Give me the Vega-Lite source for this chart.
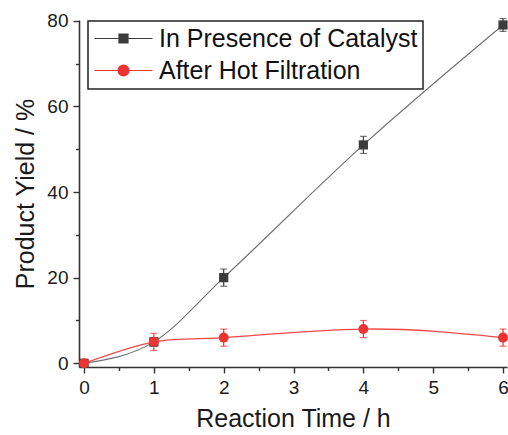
{
  "$schema": "https://vega.github.io/schema/vega-lite/v6.json",
  "width": 428,
  "height": 347,
  "autosize": {"type": "none"},
  "padding": {"left": 79, "top": 20, "right": 1, "bottom": 68},
  "background": "white",
  "config": {
    "view": {"stroke": null},
    "font": "Liberation Sans",
    "axis": {
      "domainColor": "#333333",
      "domainWidth": 1.6,
      "tickColor": "#333333",
      "tickWidth": 1.4,
      "labelFont": "Liberation Sans",
      "labelFontSize": 19,
      "labelColor": "#1a1a1a",
      "titleFont": "Liberation Sans",
      "titleFontSize": 25,
      "titleFontWeight": "normal",
      "titleColor": "#1a1a1a",
      "grid": false,
      "labelOverlap": false,
      "labelFlush": false
    }
  },
  "data": {
    "values": [
      {"series": "In Presence of Catalyst", "time": 0, "yield": 0, "err": 0.5},
      {"series": "In Presence of Catalyst", "time": 1, "yield": 5, "err": 1},
      {"series": "In Presence of Catalyst", "time": 2, "yield": 20, "err": 2},
      {"series": "In Presence of Catalyst", "time": 4, "yield": 51, "err": 2},
      {"series": "In Presence of Catalyst", "time": 6, "yield": 79, "err": 1.5},
      {"series": "After Hot Filtration", "time": 0, "yield": 0, "err": 0.5},
      {"series": "After Hot Filtration", "time": 1, "yield": 5, "err": 2},
      {"series": "After Hot Filtration", "time": 2, "yield": 6, "err": 2},
      {"series": "After Hot Filtration", "time": 4, "yield": 8, "err": 2},
      {"series": "After Hot Filtration", "time": 6, "yield": 6, "err": 2}
    ]
  },
  "encoding": {
    "x": {
      "field": "time", "type": "quantitative",
      "scale": {"domain": [-0.072, 6.057], "nice": false, "zero": false},
      "axis": {
        "title": "Reaction Time / h",
        "values": [0, 0.5, 1, 1.5, 2, 2.5, 3, 3.5, 4, 4.5, 5, 5.5, 6],
        "labelExpr": "datum.value % 1 === 0 ? format(datum.value, 'd') : ''",
        "tickSize": {"condition": {"test": "datum.value % 1 === 0", "value": 6}, "value": 3.5},
        "labelPadding": 5,
        "titlePadding": 9
      }
    },
    "y": {
      "field": "yield", "type": "quantitative",
      "scale": {"domain": [-0.86, 80.16], "nice": false, "zero": false},
      "axis": {
        "title": "Product Yield / %",
        "values": [0, 10, 20, 30, 40, 50, 60, 70, 80],
        "labelExpr": "datum.value % 20 === 0 ? format(datum.value, 'd') : ''",
        "tickSize": {"condition": {"test": "datum.value % 20 === 0", "value": 6}, "value": 3.5},
        "labelPadding": 5,
        "titlePadding": 8
      }
    }
  },
  "layer": [
    {
      "transform": [{"filter": "datum.series === 'In Presence of Catalyst'"}],
      "mark": {"type": "line", "interpolate": "monotone", "color": "#707070", "strokeWidth": 1.1}
    },
    {
      "transform": [{"filter": "datum.series === 'After Hot Filtration'"}],
      "mark": {"type": "line", "interpolate": "natural", "color": "#f04848", "strokeWidth": 1.3}
    },
    {
      "mark": {"type": "errorbar", "ticks": {"size": 7}, "thickness": 1.2},
      "encoding": {
        "yError": {"field": "err"},
        "color": {
          "field": "series", "type": "nominal",
          "scale": {"domain": ["In Presence of Catalyst", "After Hot Filtration"], "range": ["#3c3c3c", "#ee3333"]},
          "legend": {
            "title": null,
            "orient": "none",
            "legendX": 9,
            "legendY": 1,
            "padding": 5,
            "strokeColor": "#222222",
            "fillColor": "white",
            "labelFont": "Liberation Sans",
            "labelFontSize": 25,
            "labelColor": "#111111",
            "labelLimit": 400,
            "symbolSize": 374,
            "symbolOffset": 18,
            "labelOffset": 23,
            "rowPadding": 6,
            "symbolOpacity": 1,
            "encode": {
              "legend": {"update": {"strokeWidth": {"value": 1.5}}},
              "symbols": {
                "update": {
                  "shape": {"signal": "datum.value === 'In Presence of Catalyst' ? 'M-3,0H3M-0.47,-0.47H0.47V0.47H-0.47Z' : 'M-3,0H3M0.57,0A0.57,0.57,0,1,1,-0.57,0A0.57,0.57,0,1,1,0.57,0Z'"},
                  "stroke": {"signal": "datum.value === 'In Presence of Catalyst' ? '#707070' : '#f04848'"},
                  "fill": {"signal": "datum.value === 'In Presence of Catalyst' ? '#3c3c3c' : '#ee3333'"},
                  "strokeWidth": {"value": 1.1},
                  "opacity": {"value": 1}
                }
              }
            }
          }
        }
      }
    },
    {
      "transform": [{"filter": "datum.series === 'In Presence of Catalyst'"}],
      "mark": {"type": "point", "shape": "square", "filled": true, "size": 85, "opacity": 1},
      "encoding": {
        "color": {"field": "series", "type": "nominal"}
      }
    },
    {
      "transform": [{"filter": "datum.series === 'After Hot Filtration'"}],
      "mark": {"type": "point", "shape": "circle", "filled": true, "size": 100, "opacity": 1},
      "encoding": {
        "color": {"field": "series", "type": "nominal"}
      }
    }
  ]
}
